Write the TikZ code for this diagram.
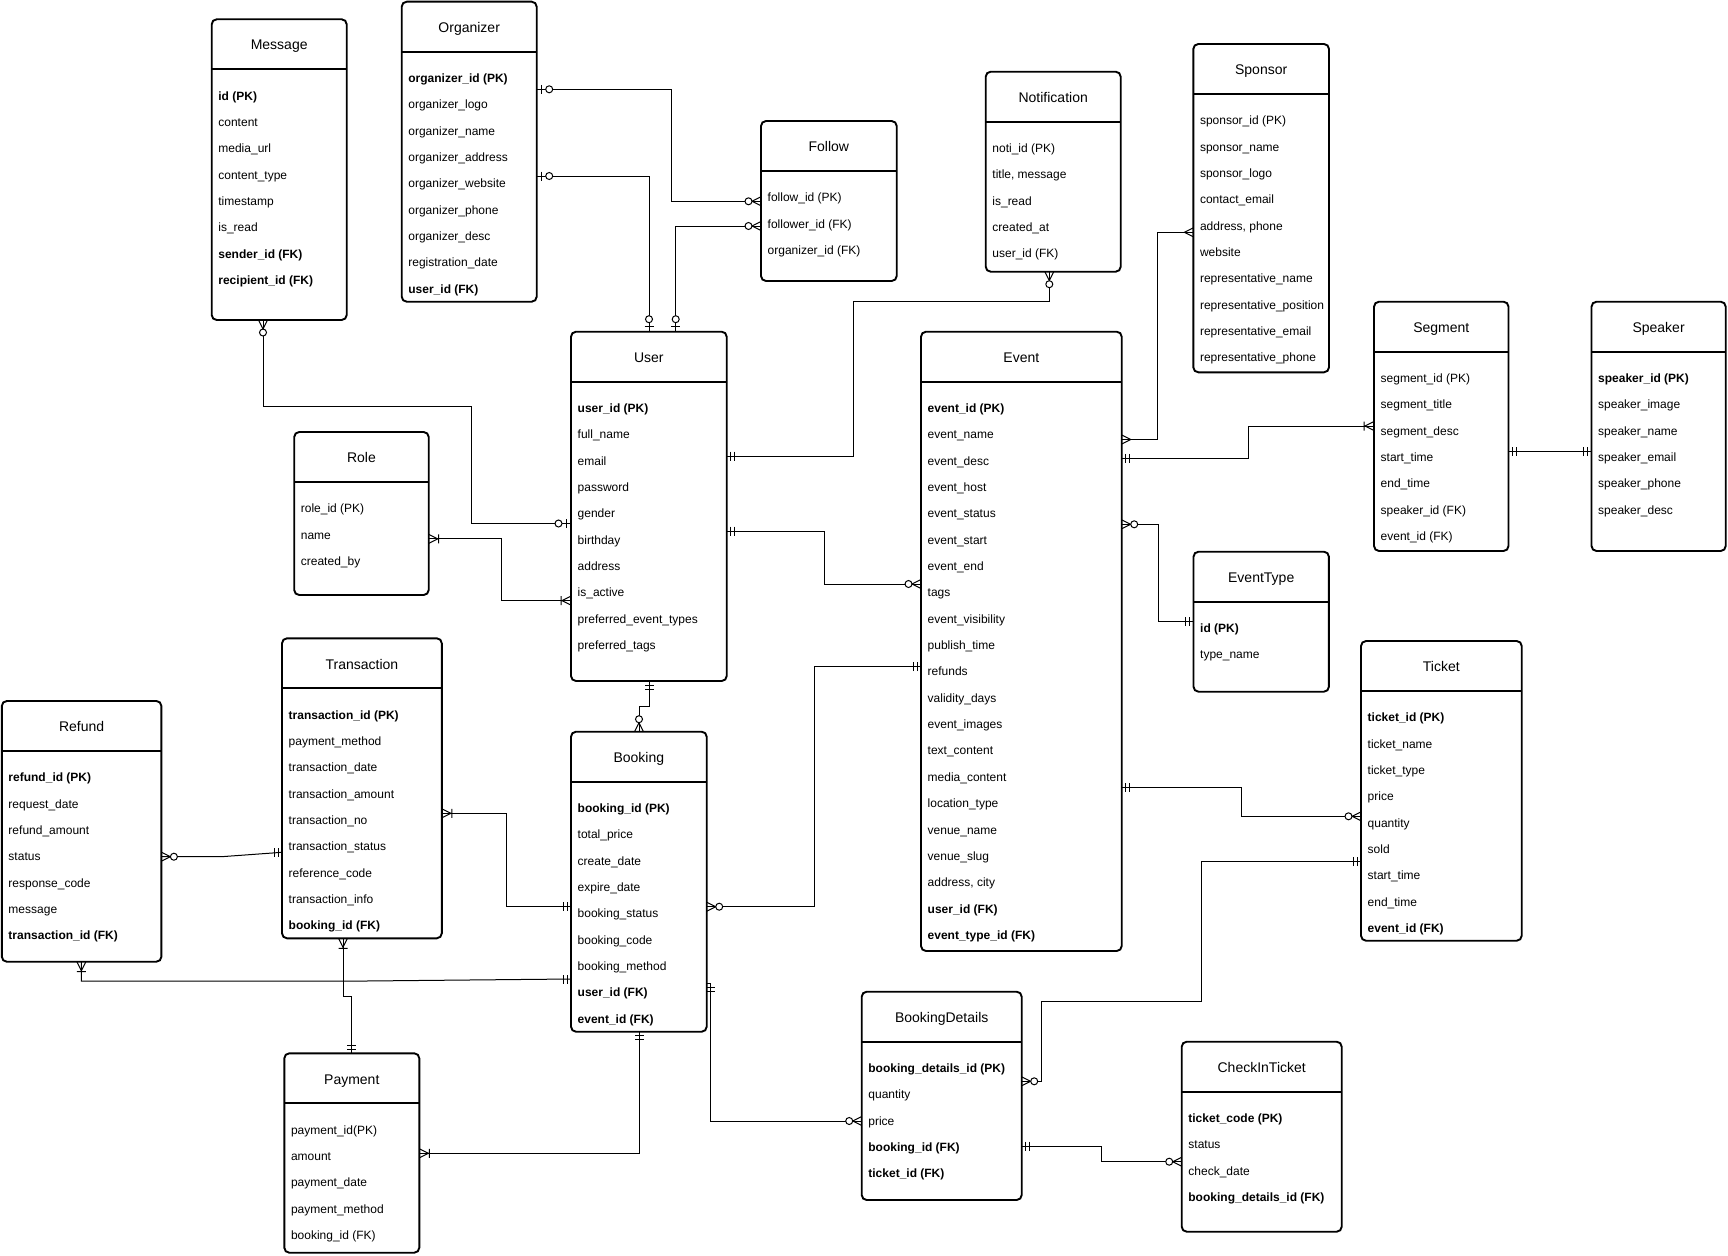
\documentclass[tikz,border=0pt]{standalone}
\usepackage{fontspec}
\setmainfont{Liberation Sans}

% One table: #1 node name, #2 left, #3 top, #4 right, #5 bottom, #6 title, #7 attribute rows
\newcommand\erentity[7]{%
  \pgfmathsetmacro\ew{#4-#2}%
  \pgfmathsetmacro\eh{#5-#3}%
  \node[ebox, minimum width=\ew pt, minimum height=\eh pt, anchor=north west] (#1) at (#2,#3) {};
  \draw[sepline] (#1.west |- 0,{#3+50}) -- (#1.east |- 0,{#3+50});
  \node[titletext] (#1-title) at ({(#2+#4)/2},{#3+30.7}) {#6};
  \foreach \rowtxt [count=\ri] in {#7} {%
    \node[rowtext] (#1-r\ri) at ({#2+6.5},{#3+80.7+(\ri-1)*26.35}) {\rowtxt};
  }%
}

\begin{document}
\begin{tikzpicture}[x=1pt,y=-1pt,
  ebox/.style={draw, line width=1.9pt, rounded corners=5pt, fill=white, inner sep=0pt, outer sep=0pt},
  sepline/.style={line width=1.9pt},
  titletext/.style={font=\fontsize{14}{16}\selectfont, inner sep=0pt, anchor=base},
  rowtext/.style={font=\fontsize{12}{14}\selectfont, inner sep=0pt, anchor=base west},
  link/.style={line width=1pt},
  tip/.style={line width=1pt},
  pics/mone/.style={code={\draw[tip] (4,-4.5)--(4,4.5) (8,-4.5)--(8,4.5);}},
  pics/zone/.style={code={\draw[tip] (5,-4.5)--(5,4.5); \draw[tip,fill=white] (12.5,0) circle[radius=3.5pt];}},
  pics/zmany/.style={code={\draw[tip] (0,-4.5)--(9,0)--(0,4.5); \draw[tip,fill=white] (12.5,0) circle[radius=3.5pt];}},
  pics/omany/.style={code={\draw[tip] (0,-4.5)--(9,0)--(0,4.5) (10,-4.5)--(10,4.5);}},
  pics/many/.style={code={\draw[tip] (0,-4.5)--(9,0)--(0,4.5);}},
]
\fill[white] (0,0) rectangle (1728,1255);
\useasboundingbox (0,0) rectangle (1728,1255);

% ---------- tables ----------
\erentity{msg}{211.7}{19.3}{346.7}{320}{Message}{\textbf{id (PK)},content,media\_url,content\_type,timestamp,is\_read,\textbf{sender\_id (FK)},\textbf{recipient\_id (FK)}}
\erentity{org}{401.7}{1.7}{536.7}{301.7}{Organizer}{\textbf{organizer\_id (PK)},organizer\_logo,organizer\_name,organizer\_address,organizer\_website,organizer\_phone,organizer\_desc,registration\_date,\textbf{user\_id (FK)}}
\erentity{follow}{761}{121}{896.7}{281}{Follow}{follow\_id (PK),follower\_id (FK),organizer\_id (FK)}
\erentity{user}{571}{331.7}{726.7}{681}{User}{\textbf{user\_id (PK)},full\_name,email,password,gender,birthday,address,is\_active,preferred\_event\_types,preferred\_tags}
\erentity{notif}{985.7}{71.7}{1120.7}{271.7}{Notification}{noti\_id (PK),{title, message},is\_read,created\_at,user\_id (FK)}
\erentity{sponsor}{1193.3}{44}{1329}{372.3}{Sponsor}{sponsor\_id (PK),sponsor\_name,sponsor\_logo,contact\_email,{address, phone},website,representative\_name,representative\_position,representative\_email,representative\_phone}
\erentity{event}{921}{331.7}{1121.7}{951}{Event}{\textbf{event\_id (PK)},event\_name,event\_desc,event\_host,event\_status,event\_start,event\_end,tags,event\_visibility,publish\_time,refunds,validity\_days,event\_images,text\_content,media\_content,location\_type,venue\_name,venue\_slug,{address, city},\textbf{user\_id (FK)},\textbf{event\_type\_id (FK)}}
\erentity{segment}{1374}{301.7}{1508.5}{551}{Segment}{segment\_id (PK),segment\_title,segment\_desc,start\_time,end\_time,speaker\_id (FK),event\_id (FK)}
\erentity{speaker}{1591.5}{301.7}{1725.7}{551}{Speaker}{\textbf{speaker\_id (PK)},speaker\_image,speaker\_name,speaker\_email,speaker\_phone,speaker\_desc}
\erentity{role}{294.2}{432}{428.7}{595}{Role}{role\_id (PK),name,created\_by}
\erentity{etype}{1193.5}{551.7}{1328.9}{691.7}{EventType}{\textbf{id (PK)},type\_name}
\erentity{ticket}{1361}{641}{1521.7}{940.7}{Ticket}{\textbf{ticket\_id (PK)},ticket\_name,ticket\_type,price,quantity,sold,start\_time,end\_time,\textbf{event\_id (FK)}}
\erentity{trans}{282}{638.3}{441.8}{938.3}{Transaction}{\textbf{transaction\_id (PK)},payment\_method,transaction\_date,transaction\_amount,transaction\_no,transaction\_status,reference\_code,transaction\_info,\textbf{booking\_id (FK)}}
\erentity{refund}{1.8}{701}{161.4}{961.7}{Refund}{\textbf{refund\_id (PK)},request\_date,refund\_amount,status,response\_code,message,\textbf{transaction\_id (FK)}}
\erentity{booking}{571}{731.7}{706.7}{1031.7}{Booking}{\textbf{booking\_id (PK)},total\_price,create\_date,expire\_date,booking\_status,booking\_code,booking\_method,\textbf{user\_id (FK)},\textbf{event\_id (FK)}}
\erentity{bd}{861.7}{991.7}{1021.7}{1200}{BookingDetails}{\textbf{booking\_details\_id (PK)},quantity,price,\textbf{booking\_id (FK)},\textbf{ticket\_id (FK)}}
\erentity{checkin}{1181.7}{1041.7}{1341.7}{1231.7}{CheckInTicket}{\textbf{ticket\_code (PK)},status,check\_date,\textbf{booking\_details\_id (FK)}}
\erentity{pay}{284.3}{1053.3}{419.3}{1252.7}{Payment}{payment\_id(PK),amount,payment\_date,payment\_method,booking\_id (FK)}

% ---------- relationships ----------
% Organizer -- User
\draw[link] (org.east |- 0,176) -| (user.north -| 649,0);
\pic at (org.east |- 0,176) {zone};
\pic[rotate=90] at (user.north -| 649,0) {zone};
% Organizer -- Follow
\draw[link] (org.east |- 0,89.3) -| (671,201.3) -- (follow.west |- 0,201.3);
\pic at (org.east |- 0,89.3) {zone};
\pic[rotate=180] at (follow.west |- 0,201.3) {zmany};
% User -- Follow
\draw[link] (user.north -| 675.7,0) |- (follow.west |- 0,226);
\pic[rotate=90] at (user.north -| 675.7,0) {zone};
\pic[rotate=180] at (follow.west |- 0,226) {zmany};
% Message -- User
\draw[link] (msg.south -| 263,0) |- (471.7,406.6) |- (user.west |- 0,523.5);
\pic[rotate=-90] at (msg.south -| 263,0) {zmany};
\pic[rotate=180] at (user.west |- 0,523.5) {zone};
% Role -- User
\draw[link] (role.east |- 0,538.9) -| (501.4,600.6) -- (user.west |- 0,600.6);
\pic at (role.east |- 0,538.9) {omany};
\pic[rotate=180] at (user.west |- 0,600.6) {omany};
% User -- Notification
\draw[link] (user.east |- 0,456) -| (853.3,301.3) -| (notif.south -| 1049.3,0);
\pic at (user.east |- 0,456) {mone};
\pic[rotate=-90] at (notif.south -| 1049.3,0) {zmany};
% User -- Event
\draw[link] (user.east |- 0,531) -| (824,584) -- (event.west |- 0,584);
\pic at (user.east |- 0,531) {mone};
\pic[rotate=180] at (event.west |- 0,584) {zmany};
% User -- Booking
\draw[link] (user.south -| 649.3,0) |- (639,706) -- (booking.north -| 639,0);
\pic[rotate=-90] at (user.south -| 649.3,0) {mone};
\pic[rotate=90] at (booking.north -| 639,0) {zmany};
% Booking -- Event
\draw[link] (booking.east |- 0,906.7) -| (814,666.7) -- (event.west |- 0,666.7);
\pic at (booking.east |- 0,906.7) {zmany};
\pic[rotate=180] at (event.west |- 0,666.7) {mone};
% Booking -- BookingDetails
\coordinate (bkbend) at (710,983);
\draw[link] (booking.east |- bkbend) -- (bkbend) |- (bd.west |- 0,1121);
\pic[rotate=-90] at (bkbend) {mone};
\pic[rotate=180] at (bd.west |- 0,1121) {zmany};
% Transaction -- Booking
\draw[link] (trans.east |- 0,813.3) -| (506.4,906) -- (booking.west |- 0,906);
\pic at (trans.east |- 0,813.3) {omany};
\pic[rotate=180] at (booking.west |- 0,906) {mone};
% Refund -- Transaction
\draw[link] (refund.east |- 0,856.7) -- (221.4,856.7) -- (trans.west |- 0,852.3);
\pic at (refund.east |- 0,856.7) {zmany};
\pic[rotate=180] at (trans.west |- 0,852.3) {mone};
% Refund -- Booking
\draw[link] (refund.south -| 81.4,0) |- (366,981) -- (booking.west |- 0,979);
\pic[rotate=-90] at (refund.south -| 81.4,0) {omany};
\pic[rotate=180] at (booking.west |- 0,979) {mone};
% Transaction -- Payment
\draw[link] (trans.south -| 343,0) |- (351.7,996) -- (pay.north -| 351.7,0);
\pic[rotate=-90] at (trans.south -| 343,0) {omany};
\pic[rotate=90] at (pay.north -| 351.7,0) {mone};
% Booking -- Payment
\draw[link] (booking.south -| 639,0) |- (pay.east |- 0,1153.3);
\pic[rotate=-90] at (booking.south -| 639,0) {mone};
\pic at (pay.east |- 0,1153.3) {omany};
% Event -- Sponsor
\draw[link] (event.east |- 0,439.5) -| (1157.7,232.3) -- (sponsor.west |- 0,232.3);
\pic at (event.east |- 0,439.5) {many};
\pic[rotate=180] at (sponsor.west |- 0,232.3) {many};
% Event -- Segment
\draw[link] (event.east |- 0,458.3) -| (1248.3,426) -- (segment.west |- 0,426);
\pic at (event.east |- 0,458.3) {mone};
\pic[rotate=180] at (segment.west |- 0,426) {omany};
% Segment -- Speaker
\draw[link] (segment.east |- 0,451.7) -- (speaker.west |- 0,451.7);
\pic at (segment.east |- 0,451.7) {mone};
\pic[rotate=180] at (speaker.west |- 0,451.7) {mone};
% Event -- EventType
\draw[link] (event.east |- 0,524.3) -| (1158,621) -- (etype.west |- 0,621);
\pic at (event.east |- 0,524.3) {zmany};
\pic[rotate=180] at (etype.west |- 0,621) {mone};
% Event -- Ticket
\draw[link] (event.east |- 0,787.5) -| (1241.5,816.3) -- (ticket.west |- 0,816.3);
\pic at (event.east |- 0,787.5) {mone};
\pic[rotate=180] at (ticket.west |- 0,816.3) {zmany};
% Ticket -- BookingDetails
\draw[link] (ticket.west |- 0,861.7) -| (1201.7,1001.7) -| (1041.7,1081.3) -- (bd.east |- 0,1081.3);
\pic[rotate=180] at (ticket.west |- 0,861.7) {mone};
\pic at (bd.east |- 0,1081.3) {zmany};
% BookingDetails -- CheckInTicket
\draw[link] (bd.east |- 0,1146) -| (1101.7,1161.7) -- (checkin.west |- 0,1161.7);
\pic at (bd.east |- 0,1146) {mone};
\pic[rotate=180] at (checkin.west |- 0,1161.7) {zmany};
\end{tikzpicture}
\end{document}
